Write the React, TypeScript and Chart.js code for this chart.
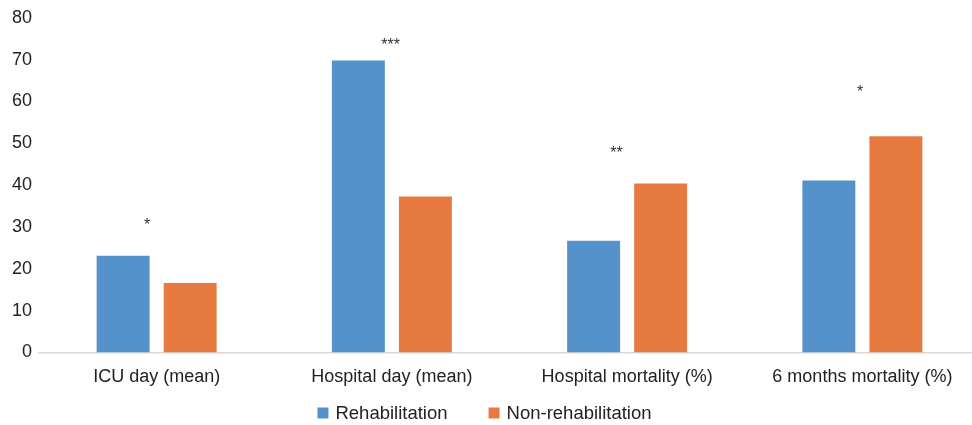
import React, { useEffect, useRef } from "react";
import { Chart, registerables } from "chart.js";

Chart.register(...registerables);

const categories = ["ICU day (mean)", "Hospital day (mean)", "Hospital mortality (%)", "6 months mortality (%)"];
const seriesNames = ["Rehabilitation", "Non-rehabilitation"];
const rehabValues = [23.1, 69.8, 26.7, 41.1];
const nonRehabValues = [16.6, 37.3, 40.4, 51.7];
const significance = ["*", "***", "**", "*"];
const significanceX = [-0.04, 0.995, 1.955, 2.99];
const significanceY = [31.2, 74.2, 48.6, 63.0];
const yTicks = [0, 10, 20, 30, 40, 50, 60, 70, 80];

const FONT = "'Liberation Sans', Arial, Helvetica, sans-serif";
const BLUE = "#5592CB";
const ORANGE = "#E67A41";
const PAGE_W = 972;
const CANVAS_W = 980;
const H = 425;

const starsPlugin = {
  id: "stars",
  afterDatasetsDraw(chart: any) {
    const { ctx, scales } = chart;
    ctx.save();
    ctx.fillStyle = "#333333";
    ctx.font = `16px ${FONT}`;
    ctx.textAlign = "center";
    ctx.textBaseline = "middle";
    significance.forEach((s, i) => {
      const x = scales.x.getPixelForValue(significanceX[i]);
      const y = scales.y.getPixelForValue(significanceY[i]);
      // asterisk glyph sits high in the em box; nudge so its visual centre lands on y
      ctx.fillText(s, x, y + 4);
    });
    ctx.restore();
  },
};

const legendPlugin = {
  id: "customLegend",
  afterDraw(chart: any) {
    const { ctx } = chart;
    ctx.save();
    ctx.font = `18.5px ${FONT}`;
    ctx.textBaseline = "middle";
    ctx.textAlign = "left";
    const box = 11;
    const boxGap = 7;
    const itemGap = 41;
    const widths = seriesNames.map((n) => ctx.measureText(n).width);
    const total = widths.reduce((a, w) => a + box + boxGap + w, 0) + itemGap * (seriesNames.length - 1);
    let x = PAGE_W / 2 - 1.5 - total / 2;
    const cy = 413;
    chart.data.datasets.forEach((ds: any, i: number) => {
      ctx.fillStyle = ds.backgroundColor;
      ctx.fillRect(x, cy - box / 2, box, box);
      x += box + boxGap;
      ctx.fillStyle = "#222222";
      ctx.fillText(seriesNames[i], x, cy + 1);
      x += widths[i] + itemGap;
    });
    ctx.restore();
  },
};

export default function App() {
  const ref = useRef<HTMLCanvasElement>(null);
  useEffect(() => {
    if (!ref.current) return;
    const chart = new Chart(ref.current, {
      type: "bar",
      data: {
        labels: categories,
        datasets: [
          {
            label: seriesNames[0],
            data: rehabValues,
            backgroundColor: BLUE,
            categoryPercentage: 0.57,
            barPercentage: 0.79,
          },
          {
            label: seriesNames[1],
            data: nonRehabValues,
            backgroundColor: ORANGE,
            categoryPercentage: 0.57,
            barPercentage: 0.79,
          },
        ],
      },
      options: {
        animation: false,
        responsive: false,
        maintainAspectRatio: false,
        layout: { padding: { top: 13.5, right: 0, left: 5, bottom: 23 } },
        scales: {
          x: {
            grid: { display: false, drawTicks: false },
            border: { display: true, color: "#D9D9D9", width: 1.5 },
            ticks: {
              color: "#222222",
              font: { family: FONT, size: 18 },
              padding: 14,
              maxRotation: 0,
            },
          },
          y: {
            min: 0,
            max: 80,
            afterBuildTicks: (axis: any) => {
              axis.ticks = yTicks.map((v) => ({ value: v }));
            },
            grid: { display: false, drawTicks: false },
            border: { display: false },
            ticks: {
              color: "#222222",
              font: { family: FONT, size: 18 },
              padding: 7,
            },
          },
        },
        plugins: {
          legend: { display: false },
          tooltip: { enabled: false },
        },
      },
      plugins: [starsPlugin, legendPlugin],
    });
    return () => chart.destroy();
  }, []);
  return (
    <div style={{ position: "absolute", left: 0, top: 0, width: PAGE_W, height: H, overflow: "hidden", background: "#fff" }}>
      <canvas ref={ref} width={CANVAS_W} height={H} style={{ width: CANVAS_W, height: H, display: "block" }} />
    </div>
  );
}
